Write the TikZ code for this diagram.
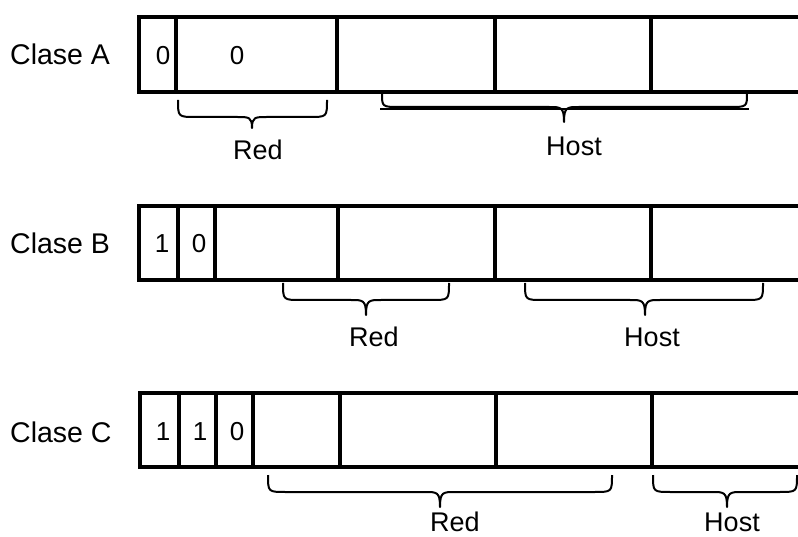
\documentclass[tikz,border=0pt]{standalone}
\usepackage{fontspec}
\setmainfont{Liberation Sans}
% curly brace under a group of fields: x-left, x-right, x-tip, y-ends, y-middle, y-tip
\newcommand\fieldbrace[6]{%
  \draw[bracestroke] (#1,#4) .. controls (#1,#5) and (#1,#5) .. (#1+18,#5) -- (#3-15,#5)
    .. controls (#3-3,#5) and (#3,#5) .. (#3,#6) .. controls (#3,#5) and (#3+3,#5) .. (#3+15,#5)
    -- (#2-18,#5) .. controls (#2,#5) and (#2,#5) .. (#2,#4);}
\begin{document}
\begin{tikzpicture}[x=1pt,y=-1pt,
  frame/.style={line width=3.1pt},
  bracestroke/.style={line width=2pt, line join=round},
  rowlabel/.style={font=\fontsize{28.5}{30}\selectfont, anchor=base west, inner sep=0pt},
  bit/.style={font=\fontsize{26}{28}\selectfont, anchor=base, inner sep=0pt},
  part/.style={font=\fontsize{27}{29}\selectfont, anchor=base, inner sep=0pt}]
\useasboundingbox (0,0) rectangle (798,537);

% ---- Clase A ----
\node[rowlabel] (la) at (10,65) {Clase A};
\draw[frame] (798,17) -- (139,17) -- (139,92) -- (798,92);
\foreach \x in {176,337,495,651} \draw[frame] (\x,17) -- (\x,92);
\node[bit] (a1) at (163,65) {0};
\node[bit] (a2) at (237,65) {0};
\fieldbrace{178}{327}{252}{100}{117}{128}
\fieldbrace{382}{747}{564}{93}{107}{122}
\draw[bracestroke] (380,109) -- (749,109);
\node[part] (ra) at (258,160) {Red};
\node[part] (ha) at (574,156) {Host};

% ---- Clase B ----
\node[rowlabel] (lb) at (10,254) {Clase B};
\draw[frame] (798,206) -- (139,206) -- (139,280) -- (798,280);
\foreach \x in {178,215,338,495,651} \draw[frame] (\x,206) -- (\x,280);
\node[bit] (b1) at (162,253) {1};
\node[bit] (b2) at (199,253) {0};
\fieldbrace{283}{449}{366}{283}{300}{315}
\fieldbrace{525}{763}{645}{283}{300}{315}
\node[part] (rb) at (374,347) {Red};
\node[part] (hb) at (652,346) {Host};

% ---- Clase C ----
\node[rowlabel] (lc) at (10,442) {Clase C};
\draw[frame] (798,393) -- (140,393) -- (140,467) -- (798,467);
\foreach \x in {179,216,253,340,496,652} \draw[frame] (\x,393) -- (\x,467);
\node[bit] (c1) at (163,440) {1};
\node[bit] (c2) at (200,440) {1};
\node[bit] (c3) at (237,440) {0};
\fieldbrace{268}{612}{440}{475}{492}{507}
\fieldbrace{653}{797}{727}{475}{492}{507}
\node[part] (rc) at (455,531) {Red};
\node[part] (hc) at (732,531) {Host};
\end{tikzpicture}
\end{document}
